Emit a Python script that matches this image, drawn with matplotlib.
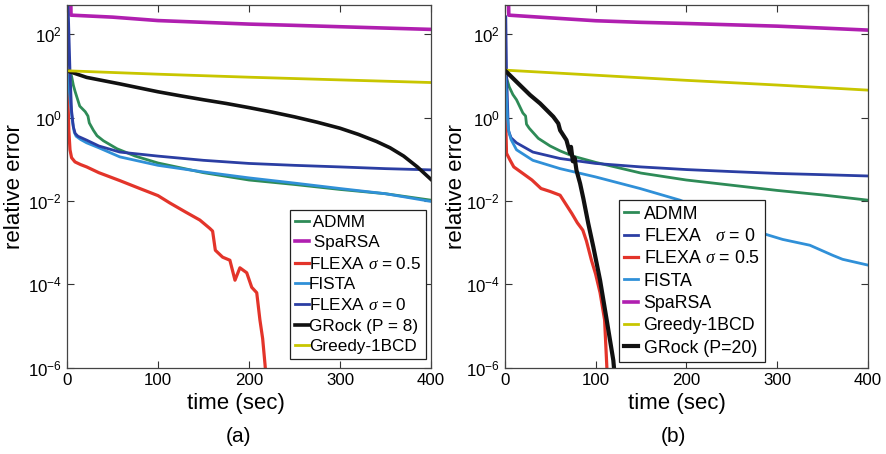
import matplotlib
matplotlib.use("Agg")
import matplotlib.pyplot as plt
from matplotlib.ticker import FixedLocator, NullLocator

plt.rcParams['font.family'] = ['Liberation Sans', 'DejaVu Sans']
plt.rcParams['mathtext.fontset'] = 'custom'
plt.rcParams['mathtext.rm'] = 'Liberation Sans'
plt.rcParams['mathtext.it'] = 'Liberation Serif:italic'
plt.rcParams['mathtext.bf'] = 'Liberation Sans:bold'

# ---------------- data, panel (a) ----------------
admm_a_t = [0, 3, 5, 7, 9, 14, 20, 23, 24.5, 29, 33, 40, 55, 75, 100, 150, 200, 250, 300, 350, 400]
admm_a_y = [13.4, 13, 10, 6, 4.2, 1.9, 1.4, 1.1, 0.75, 0.5, 0.37, 0.28, 0.18, 0.12, 0.082, 0.048, 0.032, 0.025, 0.019, 0.015, 0.0105]

sparsa_a_t = [4.0, 4.4, 50, 100, 150, 200, 250, 300, 350, 400]
sparsa_a_y = [1000, 290, 260, 215, 195, 177, 165, 153, 142, 132]

flexa05_a_t = [0, 1, 2, 3.3, 5, 8.8, 15, 21.6, 35, 58, 80, 100, 113, 130, 146, 157, 160, 163, 171, 179,
               184.6, 190, 197.5, 203, 208.5, 212, 215, 217.6, 219]
flexa05_a_y = [13, 3, 0.5, 0.17, 0.11, 0.087, 0.075, 0.066, 0.048, 0.031, 0.02, 0.0135, 0.009, 0.0055,
               0.0035, 0.0022, 0.0019, 0.00066, 0.00045, 0.00038, 0.000126, 0.00025, 0.00019, 8.5e-5,
               6.3e-5, 1.4e-5, 5e-6, 1.2e-6, 5e-7]

fista_a_t = [0, 2, 4, 6, 8, 10, 15, 21.6, 35, 58, 100, 150, 200, 250, 300, 350, 400]
fista_a_y = [13, 6, 2.0, 0.8, 0.45, 0.36, 0.3, 0.25, 0.19, 0.115, 0.072, 0.05, 0.036, 0.027, 0.02, 0.015, 0.0098]

flexa0_a_t = [0, 0.5, 1.5, 3.3, 5, 7, 9, 12, 21.6, 35, 58, 100, 150, 200, 250, 300, 350, 400]
flexa0_a_y = [13, 700, 300, 13, 1.5, 0.6, 0.42, 0.36, 0.29, 0.21, 0.15, 0.12, 0.095, 0.08, 0.072, 0.066, 0.06, 0.056]

grock_a_t = [0, 21.6, 58, 100, 125, 150, 175, 200, 225, 250, 275, 300, 320, 340, 355, 370, 385, 400]
grock_a_y = [13.4, 9.3, 6.5, 4.2, 3.35, 2.7, 2.2, 1.75, 1.37, 1.05, 0.78, 0.56, 0.4, 0.27, 0.19, 0.12, 0.066, 0.033]

greedy_a_t = [0, 100, 200, 300, 400]
greedy_a_y = [13.4, 11.1, 9.4, 8.1, 7.0]

# ---------------- data, panel (b) ----------------
admm_b_t = [0, 2, 5, 9, 13, 20, 23, 24, 27, 37, 50, 61, 75, 100, 150, 200, 250, 300, 350, 400]
admm_b_y = [13.9, 9, 5.5, 3.6, 2.7, 1.3, 1.1, 0.7, 0.56, 0.32, 0.21, 0.16, 0.12, 0.085, 0.047, 0.032,
            0.024, 0.018, 0.014, 0.0105]

flexa0_b_t = [0, 1.2, 2, 4, 7, 13, 31, 61, 100, 150, 200, 250, 300, 350, 400]
flexa0_b_y = [270, 270, 13, 0.5, 0.33, 0.25, 0.15, 0.105, 0.08, 0.066, 0.057, 0.051, 0.046, 0.043, 0.04]

flexa05_b_t = [0, 1, 2, 6, 10, 20, 30, 40, 50, 61, 74, 80, 86, 90, 95.5, 100, 105, 110, 112.5, 113.5]
flexa05_b_y = [13, 1, 0.14, 0.095, 0.066, 0.046, 0.032, 0.02, 0.017, 0.0138, 0.005, 0.003, 0.002, 0.0011,
               0.00038, 0.00018, 6.3e-5, 1.4e-5, 1e-6, 4e-7]

fista_b_t = [0, 1, 2, 3, 4, 5, 7, 13, 31, 61, 100, 149, 193, 240, 287, 306, 336, 361, 372, 400]
fista_b_y = [13.9, 8, 3, 1, 0.55, 0.42, 0.3, 0.17, 0.095, 0.06, 0.038, 0.02, 0.0105, 0.004, 0.0016,
             0.0012, 0.00087, 0.0005, 0.0004, 0.00029]

sparsa_b_t = [4.0, 4.5, 50, 100, 150, 200, 250, 300, 350, 400]
sparsa_b_y = [1000, 290, 250, 213, 195, 183, 170, 158, 142, 127]

greedy_b_t = [0, 100, 200, 300, 400]
greedy_b_y = [13.9, 10.5, 7.9, 6.1, 4.6]

grock_b_t = [0, 13, 28, 39, 53.5, 59, 61, 68, 70, 72, 73, 75, 77, 79, 83, 86.6, 92, 97.6, 105, 112.3, 119.6, 121.5]
grock_b_y = [13.9, 7.3, 3.5, 2.2, 1.06, 0.73, 0.5, 0.29, 0.2, 0.14, 0.2, 0.09, 0.11, 0.055, 0.0265, 0.0115,
             0.0029, 0.00079, 0.000126, 1.4e-5, 1.5e-6, 5e-7]

# ---------------- styles ----------------
C_ADMM = '#2e8b57'
C_SPARSA = '#b01fb0'
C_FLEXA05 = '#e3342a'
C_FISTA = '#3090d8'
C_FLEXA0 = '#2b3ea3'
C_GROCK = '#111111'
C_GREEDY = '#c8c600'

W, H = 886, 454
fig = plt.figure(figsize=(W / 100, H / 100), dpi=100)

def fx(px):
    return px / W

def fy(py):
    return 1 - py / H

ax_a = fig.add_axes([fx(67), fy(367.7), fx(431 - 67), (367.7 - 5.3) / H])
ax_b = fig.add_axes([fx(504.7), fy(367.7), fx(868 - 504.7), (367.7 - 5.3) / H])

lw = 2.0
ax_a.plot(admm_a_t, admm_a_y, color=C_ADMM, lw=lw, label=' ADMM')
ax_a.plot(sparsa_a_t, sparsa_a_y, color=C_SPARSA, lw=2.6, label=' SpaRSA')
ax_a.plot(flexa05_a_t, flexa05_a_y, color=C_FLEXA05, lw=2.3, label=r'FLEXA $\sigma$ = 0.5')
ax_a.plot(fista_a_t, fista_a_y, color=C_FISTA, lw=lw, label='FISTA')
ax_a.plot(flexa0_a_t, flexa0_a_y, color=C_FLEXA0, lw=lw, label=r'FLEXA $\sigma$ = 0')
ax_a.plot(grock_a_t, grock_a_y, color=C_GROCK, lw=2.6, label='GRock (P = 8)')
ax_a.plot(greedy_a_t, greedy_a_y, color=C_GREEDY, lw=lw, label='Greedy-1BCD')

ax_b.plot(admm_b_t, admm_b_y, color=C_ADMM, lw=lw, label='ADMM')
ax_b.plot(flexa0_b_t, flexa0_b_y, color=C_FLEXA0, lw=lw, label=r'FLEXA   $\sigma$ = 0')
ax_b.plot(flexa05_b_t, flexa05_b_y, color=C_FLEXA05, lw=2.3, label=r'FLEXA $\sigma$ = 0.5')
ax_b.plot(fista_b_t, fista_b_y, color=C_FISTA, lw=lw, label='FISTA')
ax_b.plot(sparsa_b_t, sparsa_b_y, color=C_SPARSA, lw=2.6, label='SpaRSA')
ax_b.plot(greedy_b_t, greedy_b_y, color=C_GREEDY, lw=lw, label='Greedy-1BCD')
ax_b.plot(grock_b_t, grock_b_y, color=C_GROCK, lw=3.0, label='GRock (P=20)')

for ax in (ax_a, ax_b):
    ax.set_yscale('log')
    ax.set_xlim(0, 400)
    ax.set_ylim(1e-6, 500)
    ax.xaxis.set_major_locator(FixedLocator([0, 100, 200, 300, 400]))
    ax.yaxis.set_major_locator(FixedLocator([1e-6, 1e-4, 1e-2, 1e0, 1e2]))
    ax.yaxis.set_minor_locator(NullLocator())
    ax.tick_params(which='both', direction='in', top=True, right=True, length=5,
                   width=0.8, color='#333333', labelsize=12.2, pad=3.5)
    for s in ax.spines.values():
        s.set_color('#444444')
        s.set_linewidth(0.9)

leg_a = ax_a.legend(loc='lower right', bbox_to_anchor=(0.986, 0.024), borderaxespad=0,
                    fontsize=12.3, handlelength=0.8, handletextpad=0.0, labelspacing=0.31,
                    borderpad=0.3, fancybox=False, framealpha=1, edgecolor='#222222')
leg_a.get_frame().set_linewidth(0.9)

leg_b = ax_b.legend(loc='lower right', bbox_to_anchor=(0.7165, 0.0157), borderaxespad=0,
                    fontsize=12.8, handlelength=0.8, handletextpad=0.3, labelspacing=0.30,
                    borderpad=0.3, fancybox=False, framealpha=1, edgecolor='#222222')
leg_b.get_frame().set_linewidth(0.9)

fig.text(fx(236), fy(404), 'time (sec)', ha='center', va='center', fontsize=16)
fig.text(fx(677), fy(404), 'time (sec)', ha='center', va='center', fontsize=16)
fig.text(fx(15), fy(187), 'relative error', ha='center', va='center', rotation=90, fontsize=16)
fig.text(fx(456), fy(187), 'relative error', ha='center', va='center', rotation=90, fontsize=16)
fig.text(fx(239), fy(437), '(a)', ha='center', va='center', fontsize=15)
fig.text(fx(673), fy(437), '(b)', ha='center', va='center', fontsize=15)

fig.savefig('out.png', dpi=100)
